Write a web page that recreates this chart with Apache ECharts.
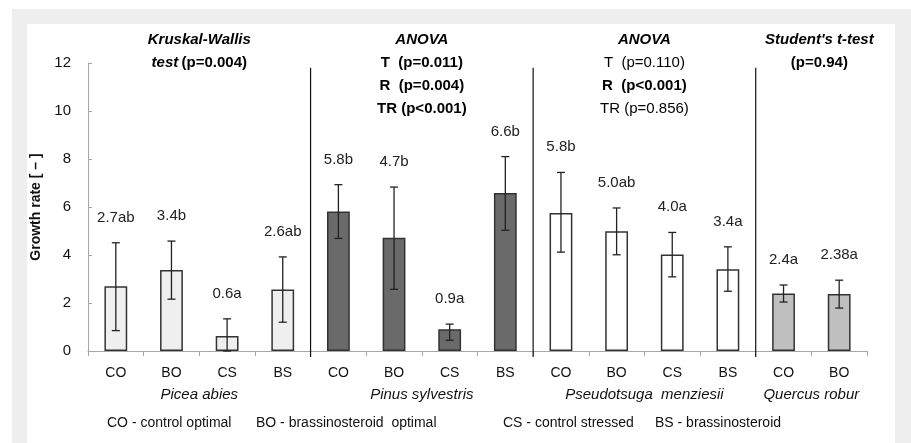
<!DOCTYPE html>
<html>
<head>
<meta charset="utf-8">
<script src="https://cdn.jsdelivr.net/npm/echarts@6/dist/echarts.min.js"></script>
<style>
  html, body { margin: 0; padding: 0; background: #fff; }
  #chart { width: 911px; height: 443px; }
</style>
</head>
<body>
<div id="chart"></div>
<script>
// treatment of each bar, four species in a row
const categories = ['CO', 'BO', 'CS', 'BS', 'CO', 'BO', 'CS', 'BS', 'CO', 'BO', 'CS', 'BS', 'CO', 'BO'];
const means   = [2.70, 3.38, 0.62, 2.56, 5.81, 4.72, 0.91, 6.58, 5.75, 4.99, 4.02, 3.41, 2.40, 2.37];
const errLow  = [0.85, 2.16, 0.00, 1.20, 4.69, 2.57, 0.45, 5.03, 4.12, 4.01, 3.09, 2.49, 2.04, 1.79];
const errHigh = [4.51, 4.58, 1.34, 3.92, 6.93, 6.83, 1.12, 8.10, 7.44, 5.96, 4.94, 4.34, 2.75, 2.95];
const valueLabels = ['2.7ab', '3.4b', '0.6a', '2.6ab', '5.8b', '4.7b', '0.9a', '6.6b', '5.8b', '5.0ab', '4.0a', '3.4a', '2.4a', '2.38a'];

const species = ['Picea abies', 'Pinus sylvestris', 'Pseudotsuga  menziesii', 'Quercus robur'];
const groupSizes = [4, 4, 4, 2];
const groupColors = ['#efefef', '#6a6a6a', '#ffffff', '#bfbfbf'];

// statistics printed above each species
const groupNotes = [
  ['{bi|Kruskal-Wallis}', '{bi|test} {b|(p=0.004)}'],
  ['{bi|ANOVA}', '{b|T  (p=0.011)}', '{b|R  (p=0.004)}', '{b|TR (p<0.001)}'],
  ['{bi|ANOVA}', '{n|T  (p=0.110)}', '{b|R  (p<0.001)}', '{n|TR (p=0.856)}'],
  ['{bi|Student\'s t-test}', '{b|(p=0.94)}']
];
const legendItems = ['CO - control optimal', 'BO - brassinosteroid  optimal', 'CS - control stressed', 'BS - brassinosteroid'];

const yMin = 0, yMax = 12, yStep = 2;

const FONT = '"Liberation Sans", Arial, sans-serif';

// group index of every bar
const groupOf = [];
groupSizes.forEach((n, g) => { for (let i = 0; i < n; i++) groupOf.push(g); });
// boundaries between species (after bar index)
const boundaries = [];
let acc = 0;
groupSizes.slice(0, -1).forEach(n => { acc += n; boundaries.push(acc - 1); });

var myChart = echarts.init(document.getElementById('chart'));

myChart.setOption({
  animation: false,
  grid: { left: 88, right: 44, top: 63, bottom: 92 },
  xAxis: {
    type: 'category',
    data: categories,
    axisLine: { lineStyle: { color: '#a6a6a6', width: 1 } },
    axisTick: { show: true, interval: 0, length: 5, lineStyle: { color: '#a6a6a6' } },
    axisLabel: { interval: 0, margin: 15, fontSize: 14, color: '#111', fontFamily: FONT },
    splitLine: { show: false }
  },
  yAxis: {
    type: 'value',
    min: yMin, max: yMax, interval: yStep,
    name: 'Growth rate [ – ]',
    nameLocation: 'middle',
    nameGap: 33,
    nameTextStyle: { fontSize: 14, fontWeight: 'bold', color: '#111', fontFamily: FONT },
    axisLine: { show: true, lineStyle: { color: '#a6a6a6', width: 1 } },
    axisTick: { show: true, inside: true, length: 4, lineStyle: { color: '#a6a6a6' } },
    axisLabel: { fontSize: 15, color: '#111', margin: 17, fontFamily: FONT },
    splitLine: { show: false }
  },
  series: [
    {
      type: 'bar',
      barWidth: '41%',
      data: means.map((v, i) => ({
        value: v,
        itemStyle: { color: groupColors[groupOf[i]], borderColor: '#333', borderWidth: 1.5 }
      })),
      z: 2
    },
    {
      // error bars + letter labels
      type: 'custom',
      data: means.map((v, i) => [i, errLow[i], errHigh[i]]),
      z: 3,
      renderItem: function (params, api) {
        const i = api.value(0);
        const lo = api.coord([i, api.value(1)]);
        const hi = api.coord([i, api.value(2)]);
        const lab = api.coord([i, api.value(2) + 1.05]);
        const cap = 4;
        const st = { stroke: '#222', lineWidth: 1.3 };
        return {
          type: 'group',
          children: [
            { type: 'line', shape: { x1: lo[0], y1: lo[1], x2: hi[0], y2: hi[1] }, style: st },
            { type: 'line', shape: { x1: hi[0] - cap, y1: hi[1], x2: hi[0] + cap, y2: hi[1] }, style: st },
            { type: 'line', shape: { x1: lo[0] - cap, y1: lo[1], x2: lo[0] + cap, y2: lo[1] }, style: st },
            { type: 'text', x: lab[0], y: lab[1], style: {
                text: valueLabels[i], align: 'center', verticalAlign: 'middle',
                fontSize: 15, fill: '#222', fontFamily: FONT } }
          ]
        };
      }
    },
    {
      // vertical separators between species
      type: 'custom',
      data: boundaries.map(b => [b, 0]),
      z: 4,
      clip: false,
      renderItem: function (params, api) {
        const i = api.value(0);
        const half = api.size([1, 0])[0] / 2;
        const top = api.coord([i, 11.8]);
        const bot = api.coord([i, 0]);
        const x = top[0] + half;
        return { type: 'line', shape: { x1: x, y1: top[1], x2: x, y2: bot[1] + 6 },
                 style: { stroke: '#111', lineWidth: 1.2 } };
      }
    }
  ]
});

// frame, species names, statistics and the treatment key
function px(i) { return myChart.convertToPixel({ xAxisIndex: 0 }, i); }
const graphics = [
  { type: 'rect', z: -10, shape: { x: 12, y: 9, width: 899, height: 434 }, style: { fill: '#eeeeee' } },
  { type: 'rect', z: -9, shape: { x: 27, y: 24, width: 868, height: 419 }, style: { fill: '#ffffff' } }
];
let start = 0;
groupSizes.forEach((n, g) => {
  const cx = (px(start) + px(start + n - 1)) / 2;
  graphics.push({
    type: 'text', x: cx, y: 395, z: 10,
    style: { text: species[g], align: 'center', verticalAlign: 'middle',
             fontSize: 15, fontStyle: 'italic', fill: '#111', fontFamily: FONT }
  });
  graphics.push({
    type: 'text', x: cx + (g === 3 ? 8 : 0), y: 28.5, z: 10,
    style: {
      text: groupNotes[g].join('\n'), align: 'center', verticalAlign: 'top',
      fill: '#000', fontFamily: FONT, lineHeight: 23,
      rich: {
        bi: { fontSize: 15, fontWeight: 'bold', fontStyle: 'italic', fontFamily: FONT, lineHeight: 23 },
        b: { fontSize: 15, fontWeight: 'bold', fontFamily: FONT, lineHeight: 23 },
        n: { fontSize: 15, fontFamily: FONT, lineHeight: 23 }
      }
    }
  });
  start += n;
});
const keyX = [107, 256, 503, 655];
legendItems.forEach((t, k) => {
  graphics.push({
    type: 'text', x: keyX[k], y: 423, z: 10,
    style: { text: t, align: 'left', verticalAlign: 'middle', fontSize: 14, fill: '#111', fontFamily: FONT }
  });
});
myChart.setOption({ graphic: graphics });
</script>
</body>
</html>
